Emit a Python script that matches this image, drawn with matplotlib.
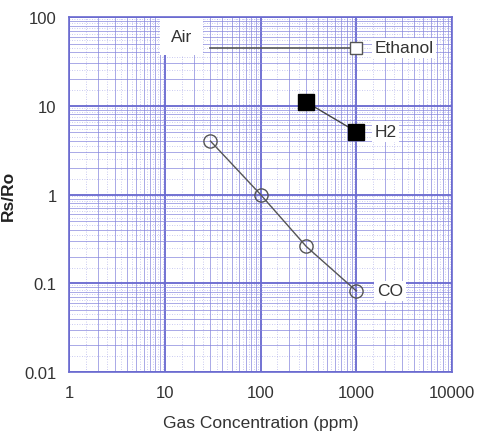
import matplotlib.pyplot as plt
import numpy as np
from matplotlib.ticker import LogLocator, NullFormatter

plt.rcParams['font.family'] = ['Liberation Sans', 'DejaVu Sans']

# data
ethanol_x = [30, 1000]
ethanol_y = [45, 45]
h2_x = [300, 1000]
h2_y = [11, 5.1]
co_x = [30, 100, 300, 1000]
co_y = [4.0, 1.0, 0.26, 0.082]

x_ticks = [1, 10, 100, 1000, 10000]
x_labels = ["1", "10", "100", "1000", "10000"]
y_ticks = [0.01, 0.1, 1, 10, 100]
y_labels = ["0.01", "0.1", "1", "10", "100"]

grid_c = '#6a6ad0'

fig = plt.figure(figsize=(4.84, 4.35), dpi=100)
ax = fig.add_axes([0.1426, 0.1425, 0.7914, 0.8161])
ax.set_xscale('log')
ax.set_yscale('log')
ax.set_xlim(1, 10000)
ax.set_ylim(0.01, 100)

# dense log grid: major solid, 2..9 solid thin, half steps dotted
ax.set_xticks(x_ticks)
ax.set_xticklabels(x_labels)
ax.set_yticks(y_ticks)
ax.set_yticklabels(y_labels)
ax.xaxis.set_minor_locator(LogLocator(base=10, subs=np.arange(2, 10)))
ax.yaxis.set_minor_locator(LogLocator(base=10, subs=np.arange(2, 10)))
ax.xaxis.set_minor_formatter(NullFormatter())
ax.yaxis.set_minor_formatter(NullFormatter())
ax.grid(True, which='major', color=grid_c, lw=1.4, alpha=0.95)
ax.grid(True, which='minor', color='#8484dc', lw=0.7, alpha=0.7)
half = np.arange(1.5, 10, 1.0)
for d in [1, 10, 100, 1000]:
    for h in half:
        ax.axvline(d * h, color='#8a8ae0', lw=0.6, ls=(0, (1, 2)), alpha=0.6, zorder=0)
for d in [0.01, 0.1, 1, 10]:
    for h in half:
        ax.axhline(d * h, color='#8a8ae0', lw=0.6, ls=(0, (1, 2)), alpha=0.6, zorder=0)

ax.tick_params(which='both', length=0, labelsize=12, colors='#333333', pad=9)
for s in ax.spines.values():
    s.set_color(grid_c)
    s.set_linewidth(1.2)

ax.plot(ethanol_x, ethanol_y, color='#555555', lw=1.2, zorder=3)
ax.plot(ethanol_x[-1:], ethanol_y[-1:], 's', ms=8, mfc='white', mec='#555555', mew=1, zorder=4)
ax.plot(h2_x, h2_y, color='#444444', lw=1, marker='s', ms=11, mfc='black', mec='black', zorder=4)
ax.plot(co_x, co_y, color='#555555', lw=1, marker='o', ms=9.5, mfc='none', mec='#555555', mew=1, zorder=4)

box = dict(facecolor='white', edgecolor='none', pad=2)
ax.text(15, 60, "Air", fontsize=12.5, color='#333333', ha='center', va='center', bbox=dict(facecolor='white', edgecolor='none', pad=8))
ax.text(1550, 45, "Ethanol", fontsize=12.5, color='#333333', va='center', bbox=box)
ax.text(1550, 5.1, "H2", fontsize=12.5, color='#333333', va='center', bbox=box)
ax.text(1650, 0.082, "CO", fontsize=12.5, color='#333333', va='center', bbox=box)

ax.set_xlabel("Gas Concentration (ppm)", fontsize=12.5, color='#333333', labelpad=11)
ax.set_ylabel("Rs/Ro", fontsize=12.5, color='#222222', fontweight='bold', labelpad=6)

fig.savefig("out.png", dpi=100)
